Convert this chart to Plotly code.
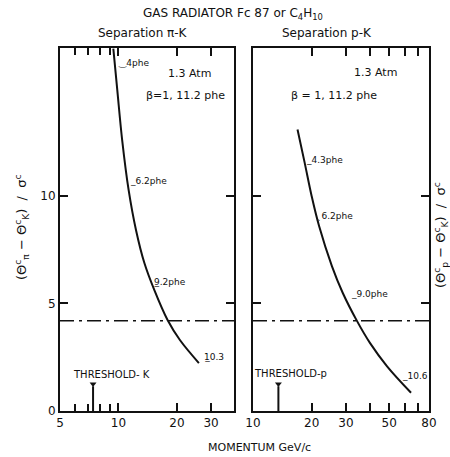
import math
import plotly.graph_objects as go

# ---- data ----
pk_p = [9.41, 9.86, 10.45, 11.28, 12.31, 13.6, 15.29, 17.9, 20.72, 25.95]
pk_sep = [16.85, 14.93, 12.6, 10.28, 8.42, 6.88, 5.63, 4.23, 3.3, 2.23]
prk_p = [16.92, 18.42, 20.0, 21.83, 25.4, 28.85, 34.2, 39.8, 48.75, 64.7]
prk_sep = [13.09, 11.54, 9.99, 8.6, 6.74, 5.5, 4.18, 3.17, 2.08, 0.85]
cut_level = 4.2
thr_k = 7.4
thr_p = 13.5
thr_height = 1.25

left_ticks = [5, 10, 20, 30]
left_minor = [6, 7, 8, 9]
right_ticks = [10, 20, 30, 40, 50, 60, 70, 80]
right_text = ["10", "20", "30", "", "50", "", "", "80"]
y_ticks = [0, 5, 10]

# phe labels: (text, momentum, separation)
left_labels = [("\u203f4phe", 9.7, 16.2), ("_6.2phe", 11.15, 10.7),
               ("9\u0332.2phe", 14.9, 6.0), ("1\u03320.3", 27.0, 2.5)]
right_labels = [("_4.3phe", 18.3, 11.66), ("\u02ce6.2phe", 20.9, 9.06),
                ("_9.0phe", 31.0, 5.42), ("_10.6", 57.0, 1.62)]

FONT = "DejaVu Sans"
BLACK = "#111"

fig = go.Figure()

# curves
fig.add_trace(go.Scatter(x=pk_p, y=pk_sep, mode="lines",
                         line=dict(color=BLACK, width=2, shape="spline", smoothing=1.0),
                         xaxis="x", yaxis="y", showlegend=False))
fig.add_trace(go.Scatter(x=prk_p, y=prk_sep, mode="lines",
                         line=dict(color=BLACK, width=2, shape="spline", smoothing=1.0),
                         xaxis="x2", yaxis="y2", showlegend=False))
# cut lines
dd = "14px,5px,3px,5px"
fig.add_trace(go.Scatter(x=[5, 40], y=[cut_level, cut_level], mode="lines",
                         line=dict(color=BLACK, width=1.5, dash=dd), xaxis="x", yaxis="y", showlegend=False))
fig.add_trace(go.Scatter(x=[10, 80], y=[cut_level, cut_level], mode="lines",
                         line=dict(color=BLACK, width=1.5, dash=dd), xaxis="x2", yaxis="y2", showlegend=False))
# thresholds
for xa, ya, t in (("x", "y", thr_k), ("x2", "y2", thr_p)):
    fig.add_trace(go.Scatter(x=[t, t], y=[0, thr_height - 0.1], mode="lines",
                             line=dict(color=BLACK, width=2), xaxis=xa, yaxis=ya, showlegend=False))
    fig.add_trace(go.Scatter(x=[t], y=[thr_height], mode="markers",
                             marker=dict(symbol="triangle-down", size=6, color=BLACK),
                             xaxis=xa, yaxis=ya, showlegend=False))

ax_common = dict(type="log", showgrid=False, zeroline=False, showline=True, linecolor=BLACK,
                 linewidth=2, mirror="ticks", ticks="inside", tickcolor=BLACK, tickwidth=1.5,
                 automargin=False, tickfont=dict(family=FONT, size=12, color=BLACK))
ay_common = dict(range=[0, 16.88], showgrid=False, zeroline=False, showline=True, linecolor=BLACK,
                 linewidth=2, mirror="ticks", ticks="inside", tickcolor=BLACK, tickwidth=1.5,
                 automargin=False, ticklen=8, tickvals=y_ticks,
                 tickfont=dict(family=FONT, size=12, color=BLACK))

fig.update_layout(
    width=450, height=457, margin=dict(l=0, r=0, t=0, b=0, autoexpand=False),
    paper_bgcolor="white", plot_bgcolor="white",
    xaxis=dict(**ax_common, domain=[60 / 450, 234 / 450], range=[math.log10(5), 1.595],
               tickvals=left_ticks, ticktext=[str(v) for v in left_ticks], ticklen=8,
               minor=dict(tickvals=left_minor, ticklen=7, tickcolor=BLACK, ticks="inside", showgrid=False),
               anchor="y"),
    yaxis=dict(**ay_common, domain=[46 / 457, 409 / 457], anchor="x", showticklabels=True),
    xaxis2=dict(**ax_common, domain=[253 / 450, 429 / 450], range=[1.0, math.log10(80)],
                tickvals=right_ticks, ticktext=right_text, ticklen=8, anchor="y2"),
    yaxis2=dict(**ay_common, domain=[46 / 457, 409 / 457], anchor="x2", showticklabels=False),
)

ann = []
def txt(text, x, y, xref="paper", yref="paper", size=11, xanchor="center", yanchor="middle", angle=0):
    ann.append(dict(text=text, x=x, y=y, xref=xref, yref=yref, showarrow=False,
                    font=dict(family=FONT, size=size, color=BLACK), xanchor=xanchor,
                    yanchor=yanchor, textangle=angle))

txt("GAS RADIATOR Fc 87 or C<sub>4</sub>H<sub>10</sub>", 233 / 450, 1 - 14 / 457, size=12)
txt("Separation \u03c0-K", 143 / 450, 1 - 33 / 457, size=12)
txt("Separation p-K", 327 / 450, 1 - 33 / 457, size=12)
txt("MOMENTUM GeV/c", 259 / 450, 1 - 447 / 457, size=11)
txt("(\u0398<sup>c</sup><sub>\u03c0</sub> \u2212 \u0398<sup>c</sup><sub>K</sub>)  /  \u03c3<sup>c</sup>",
    22 / 450, 1 - 228 / 457, size=13, angle=-90)
txt("(\u0398<sup>c</sup><sub>p</sub> \u2212 \u0398<sup>c</sup><sub>K</sub>)  /  \u03c3<sup>c</sup>",
    441 / 450, 1 - 235 / 457, size=13, angle=-90)

for t, x, y in left_labels:
    txt(t, math.log10(x), y, "x", "y", size=9, xanchor="left")
for t, x, y in right_labels:
    txt(t, math.log10(x), y, "x2", "y2", size=9, xanchor="left")

txt("1.3 Atm", math.log10(23.3), 15.7, "x", "y", size=11)
txt("\u03b2=1, 11.2 phe", math.log10(22.2), 14.65, "x", "y", size=11)
txt("1.3 Atm", math.log10(42.3), 15.74, "x2", "y2", size=11)
txt("\u03b2 = 1, 11.2 phe", math.log10(26.0), 14.67, "x2", "y2", size=11)
txt("THRESHOLD- K", math.log10(9.25), 1.72, "x", "y", size=10)
txt("THRESHOLD-p", math.log10(15.6), 1.74, "x2", "y2", size=10)

fig.update_layout(annotations=ann)
fig.write_html("out.html")
